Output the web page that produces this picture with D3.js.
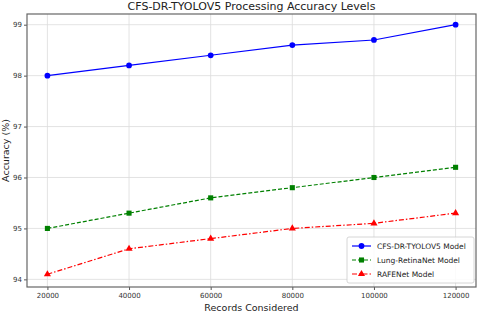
<!DOCTYPE html>
<html>
<head>
<meta charset="utf-8">
<script src="https://cdn.jsdelivr.net/npm/d3@7"></script>
<style>
body { margin: 0; background: #fff; }
text { font-family: "DejaVu Sans", sans-serif; }
</style>
</head>
<body>
<div id="chart"></div>
<script>
var records = [20000, 40000, 60000, 80000, 100000, 120000];
var cfsAcc = [98.0, 98.2, 98.4, 98.6, 98.7, 99.0];
var lungAcc = [95.0, 95.3, 95.6, 95.8, 96.0, 96.2];
var rafeAcc = [94.1, 94.6, 94.8, 95.0, 95.1, 95.3];
var yTicks = [94, 95, 96, 97, 98, 99];
var seriesNames = ["CFS-DR-TYOLOV5 Model", "Lung-RetinaNet Model", "RAFENet Model"];

var width = 480, height = 314;
var margin = {left: 27, right: 4, top: 14, bottom: 27};

var svg = d3.select("#chart").append("svg")
    .attr("width", width)
    .attr("height", height);

var x = d3.scaleLinear()
    .domain([15000, 125000])
    .range([margin.left, width - margin.right]);

var y = d3.scaleLinear()
    .domain([93.85, 99.21])
    .range([height - margin.bottom, margin.top]);

// grid
svg.append("g").selectAll("line.vg")
    .data(records).enter().append("line")
    .attr("x1", d => x(d)).attr("x2", d => x(d))
    .attr("y1", margin.top).attr("y2", height - margin.bottom)
    .style("stroke", "#dcdcdc").style("stroke-width", 0.8);
svg.append("g").selectAll("line.hg")
    .data(yTicks).enter().append("line")
    .attr("y1", d => y(d)).attr("y2", d => y(d))
    .attr("x1", margin.left).attr("x2", width - margin.right)
    .style("stroke", "#dcdcdc").style("stroke-width", 0.8);

// axes
var xAxis = svg.append("g")
    .attr("transform", "translate(0," + (height - margin.bottom) + ")")
    .call(d3.axisBottom(x).tickValues(records).tickFormat(d3.format("d")).tickSize(3).tickPadding(3));
var yAxis = svg.append("g")
    .attr("transform", "translate(" + margin.left + ",0)")
    .call(d3.axisLeft(y).tickValues(yTicks).tickFormat(d3.format("d")).tickSize(3).tickPadding(2));
[xAxis, yAxis].forEach(function(a) {
    a.select(".domain").remove();
    a.selectAll("text").style("font-size", "7px").style("fill", "#333");
    a.selectAll("line").style("stroke", "#555");
});

// frame
svg.append("rect")
    .attr("x", margin.left).attr("y", margin.top)
    .attr("width", width - margin.left - margin.right)
    .attr("height", height - margin.top - margin.bottom)
    .style("fill", "none").style("stroke", "#666").style("stroke-width", 1.2);

var series = [
    {name: seriesNames[0], values: cfsAcc, color: "#0000ff", dash: null, marker: "circle"},
    {name: seriesNames[1], values: lungAcc, color: "#008000", dash: "4,2", marker: "square"},
    {name: seriesNames[2], values: rafeAcc, color: "#ff0000", dash: "5,2,1.5,2", marker: "triangle"}
];

var line = d3.line()
    .x((d, i) => x(records[i]))
    .y(d => y(d));

function marker(g, type, color, cx, cy) {
    var sym = type === "circle" ? d3.symbolCircle : type === "square" ? d3.symbolSquare : d3.symbolTriangle;
    var size = type === "triangle" ? 22 : 26;
    g.append("path")
        .attr("d", d3.symbol().type(sym).size(size)())
        .attr("transform", "translate(" + cx + "," + cy + ")")
        .style("fill", color);
}

series.forEach(function(s) {
    svg.append("path")
        .datum(s.values)
        .attr("d", line)
        .style("fill", "none")
        .style("stroke", s.color)
        .style("stroke-width", 1.2)
        .style("stroke-dasharray", s.dash);
    s.values.forEach(function(v, i) {
        marker(svg, s.marker, s.color, x(records[i]), y(v));
    });
});

// title and labels
svg.append("text")
    .attr("x", (margin.left + width - margin.right) / 2)
    .attr("y", 10)
    .attr("text-anchor", "middle")
    .style("font-size", "11px")
    .style("fill", "#222")
    .text("CFS-DR-TYOLOV5 Processing Accuracy Levels");

svg.append("text")
    .attr("x", (margin.left + width - margin.right) / 2)
    .attr("y", 311)
    .attr("text-anchor", "middle")
    .style("font-size", "9.5px")
    .style("fill", "#222")
    .text("Records Considered");

svg.append("text")
    .attr("transform", "translate(9," + ((margin.top + height - margin.bottom) / 2) + ") rotate(-90)")
    .attr("text-anchor", "middle")
    .style("font-size", "9.5px")
    .style("fill", "#222")
    .text("Accuracy (%)");

// legend
var lg = svg.append("g").attr("transform", "translate(347,237)");
lg.append("rect")
    .attr("width", 127).attr("height", 46).attr("rx", 2)
    .style("fill", "#fff").style("fill-opacity", 0.85)
    .style("stroke", "#ccc").style("stroke-width", 0.8);
series.forEach(function(s, i) {
    var yy = 9 + i * 14;
    lg.append("line")
        .attr("x1", 5).attr("x2", 24).attr("y1", yy).attr("y2", yy)
        .style("stroke", s.color).style("stroke-width", 1.2)
        .style("stroke-dasharray", s.dash);
    marker(lg, s.marker, s.color, 14.5, yy);
    lg.append("text")
        .attr("x", 30).attr("y", yy + 3)
        .style("font-size", "7.5px")
        .style("fill", "#222")
        .text(s.name);
});
</script>
</body>
</html>
